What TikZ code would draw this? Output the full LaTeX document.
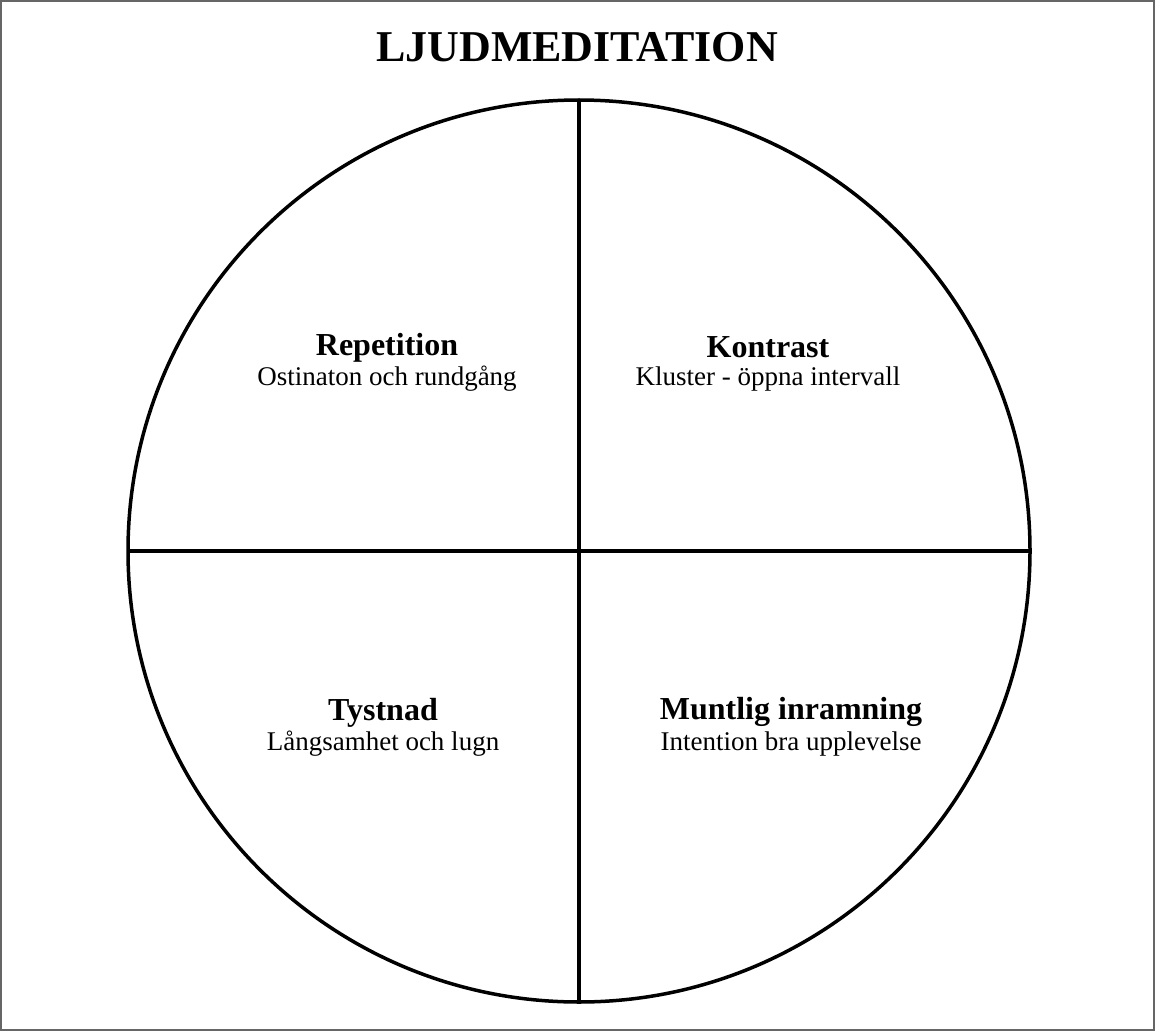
\documentclass[tikz,border=0pt]{standalone}
\usepackage{fontspec}
\setmainfont{Liberation Serif}
\usetikzlibrary{positioning}
\tikzset{heading/.style={anchor=base, font=\bfseries\fontsize{32}{34}\selectfont}}
\tikzset{subline/.style={anchor=base, font=\fontsize{27}{29}\selectfont}}

\begin{document}
\begin{tikzpicture}[x=1pt,y=-1pt]
      \useasboundingbox (0,0) rectangle (1155,1032);
      \draw[gray!80!black,line width=1.3pt] (1,1) rectangle (1154,1030);
      \coordinate (c) at (579,551);
      \coordinate (top) at (579,100);
      \coordinate (bot) at (579,1002);
      \coordinate (left) at (128,551);
      \coordinate (right) at (1030,551);
      \node[anchor=base,font=\bfseries\fontsize{44}{46}\selectfont] (title) at (577,62) {LJUDMEDITATION};
      \draw[line width=3.5pt] (c) circle (451);
      \draw[line width=3.5pt] (top) -- (bot);
      \draw[line width=3.5pt] (left) -- (right);
      \node[heading] (rep) at (387,355) {Repetition};
      \node[subline] (repsub) at (387,385) {Ostinaton och rundgång};
      \node[heading] (kon) at (768,357) {Kontrast};
      \node[subline] (konsub) at (768,385) {Kluster - öppna intervall};
      \node[heading] (tys) at (383,720) {Tystnad};
      \node[subline] (tyssub) at (383,750) {Långsamhet och lugn};
      \node[heading] (mun) at (791,719) {Muntlig inramning};
      \node[subline] (munsub) at (791,750) {Intention bra upplevelse};
    \end{tikzpicture}
\end{document}
